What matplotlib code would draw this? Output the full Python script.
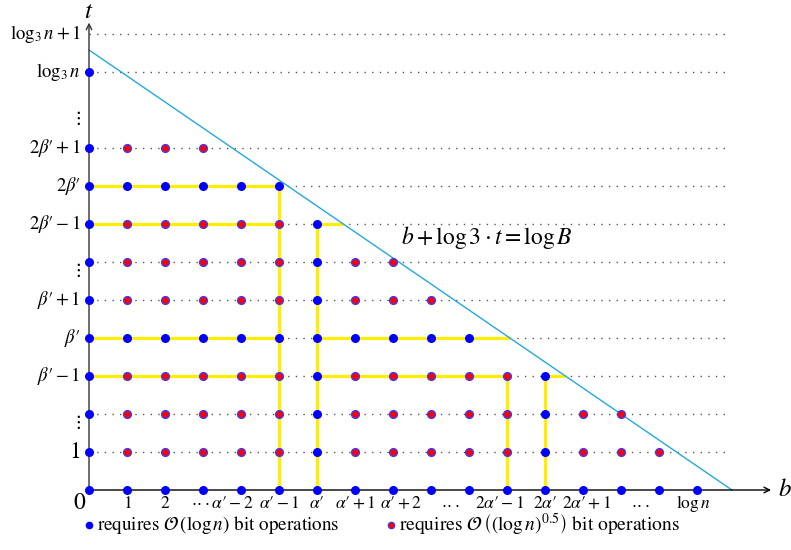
import numpy as np
import matplotlib.pyplot as plt

plt.rcParams['mathtext.fontset'] = 'stix'
plt.rcParams['font.family'] = ['STIXGeneral', 'DejaVu Serif']

# grid points, one list per row t
blue_pts = {
    0: list(range(0, 17)),
    1: [0, 6, 12],
    2: [0, 6, 12],
    3: [0, 6, 12],
    4: list(range(0, 11)),
    5: [0, 6],
    6: [0, 6],
    7: [0, 6],
    8: list(range(0, 6)),
    9: [0],
    11: [0],
}
red_pts = {
    1: [1, 2, 3, 4, 5, 7, 8, 9, 10, 11, 13, 14, 15],
    2: [1, 2, 3, 4, 5, 7, 8, 9, 10, 11, 13, 14],
    3: [1, 2, 3, 4, 5, 7, 8, 9, 10, 11],
    5: [1, 2, 3, 4, 5, 7, 8, 9],
    6: [1, 2, 3, 4, 5, 7, 8],
    7: [1, 2, 3, 4, 5],
    9: [1, 2, 3],
}
dotted_rows = [1, 2, 3, 4, 5, 6, 7, 8, 9, 11, 12]

# line b + log3*t = logB, given by its two intercepts
line_b0 = 16.92
line_t0 = 11.58

# yellow segments: None means "up to the line"
yellow_h = [(8, 0, 5), (7, 0, 5), (7, 6, None), (4, 0, 5), (4, 6, None),
            (3, 0, 5), (3, 6, 11), (3, 12, None)]
yellow_v = [(5, 0, None), (6, 0, 7), (11, 0, 3), (12, 0, 3)]

P = '\u2032'
D = r'\cdot\!\cdot\!\cdot'
ytick_pos = [1, 2, 3, 4, 5, 6, 7, 8, 9, 10, 11, 12]
ytick_lab = ['$1$', r'$\vdots$', rf'$\beta{P}-1$', rf'$\beta{P}$', rf'$\beta{P}+1$', r'$\vdots$',
             rf'$2\beta{P}-1$', rf'$2\beta{P}$', rf'$2\beta{P}+1$', r'$\vdots$',
             r'$\log_3 n$', r'$\log_3 n+1$']
xtick_pos = [1, 2, 3.5, 5, 6, 7, 8.2, 9.5, 10.8, 12, 13.1, 14.5, 15.9]
xtick_lab = ['$1$', '$2$', rf'${D}\alpha{P}-2$', rf'$\alpha{P}-1$', rf'$\alpha{P}$', rf'$\alpha{P}+1$',
             rf'$\alpha{P}+2$', rf'${D}$', rf'$2\alpha{P}-1$', rf'$2\alpha{P}$', rf'$2\alpha{P}+1$',
             rf'${D}$', r'$\log n$']

fig = plt.figure(figsize=(7.91, 5.5), dpi=100)
ax = fig.add_axes([0, 0, 1, 1])
ax.set_xlim(-89 / 38, (791 - 89) / 38)
ax.set_ylim(-60 / 38, 490 / 38)
ax.axis('off')

def line_x(t):
    return line_b0 * (1 - t / line_t0)

x_end = 16.87
for t in dotted_rows:
    ax.plot([0, x_end], [t, t], color='#555555', lw=1.0, ls=(0, (1, 4.5)), zorder=1)

for t, a, b in yellow_h:
    if b is None:
        b = line_x(t)
    ax.plot([a, b], [t, t], color='#ffee00', lw=2.3, solid_capstyle='butt', zorder=2)
for x, a, b in yellow_v:
    if b is None:
        b = line_t0 * (1 - x / line_b0)
    ax.plot([x, x], [a, b], color='#ffee00', lw=2.3, solid_capstyle='butt', zorder=2)

ax.plot([0, line_b0], [line_t0, 0], color='#22a8e0', lw=1.0, zorder=3)

# axes with arrows
ax.annotate('', xy=(17.95, 0), xytext=(0, 0),
            arrowprops=dict(arrowstyle='->', color='black', lw=1.0, shrinkA=0, shrinkB=0), zorder=3)
ax.annotate('', xy=(0, 12.3), xytext=(0, 0),
            arrowprops=dict(arrowstyle='->', color='#333333', lw=1.0, shrinkA=0, shrinkB=0), zorder=3)
ax.text(18.32, 0, '$b$', fontsize=18, ha='center', va='center')
ax.text(0, 12.42, '$t$', fontsize=18, ha='center', va='baseline')

for t, xs in blue_pts.items():
    ax.plot(xs, [t] * len(xs), 'o', color='#0000ff', ms=6.5, mec='#0000ff', mew=0, zorder=5)
for t, xs in red_pts.items():
    ax.plot(xs, [t] * len(xs), 'o', color='#ff0000', ms=5.6, mec='#3a3aff', mew=1.0, zorder=5)

# tick labels
for p, s in zip(ytick_pos, ytick_lab):
    fs = 17 if p == 1 else 13.5
    yy = p - 0.2 if 'vdots' in s else p
    ax.text(-0.22, yy, s, fontsize=fs, ha='right', va='center')
ax.text(-0.24, -0.34, '$0$', fontsize=17, ha='center', va='center')
for p, s in zip(xtick_pos, xtick_lab):
    ax.text(p, -0.36, s, fontsize=12.5, ha='center', va='center')

ax.text(8.2, 6.65, r'$b+\log 3\cdot t=\log B$', fontsize=17, ha='left', va='center')

# legend
ax.plot([0], [-0.92], 'o', color='#0000ff', ms=5.5, mew=0)
ax.text(0.22, -0.92, r'requires $\mathcal{O}\,\left(\log n\right)$ bit operations',
        fontsize=13.8, ha='left', va='center')
ax.plot([7.95], [-0.92], 'o', color='#ff0000', ms=4.6, mec='#3a3aff', mew=0.9)
ax.text(8.17, -0.92, r'requires $\mathcal{O}\,\left(\left(\log n\right)^{0.5}\right)$ bit operations',
        fontsize=14, ha='left', va='center')

fig.savefig('out.png', dpi=100)
